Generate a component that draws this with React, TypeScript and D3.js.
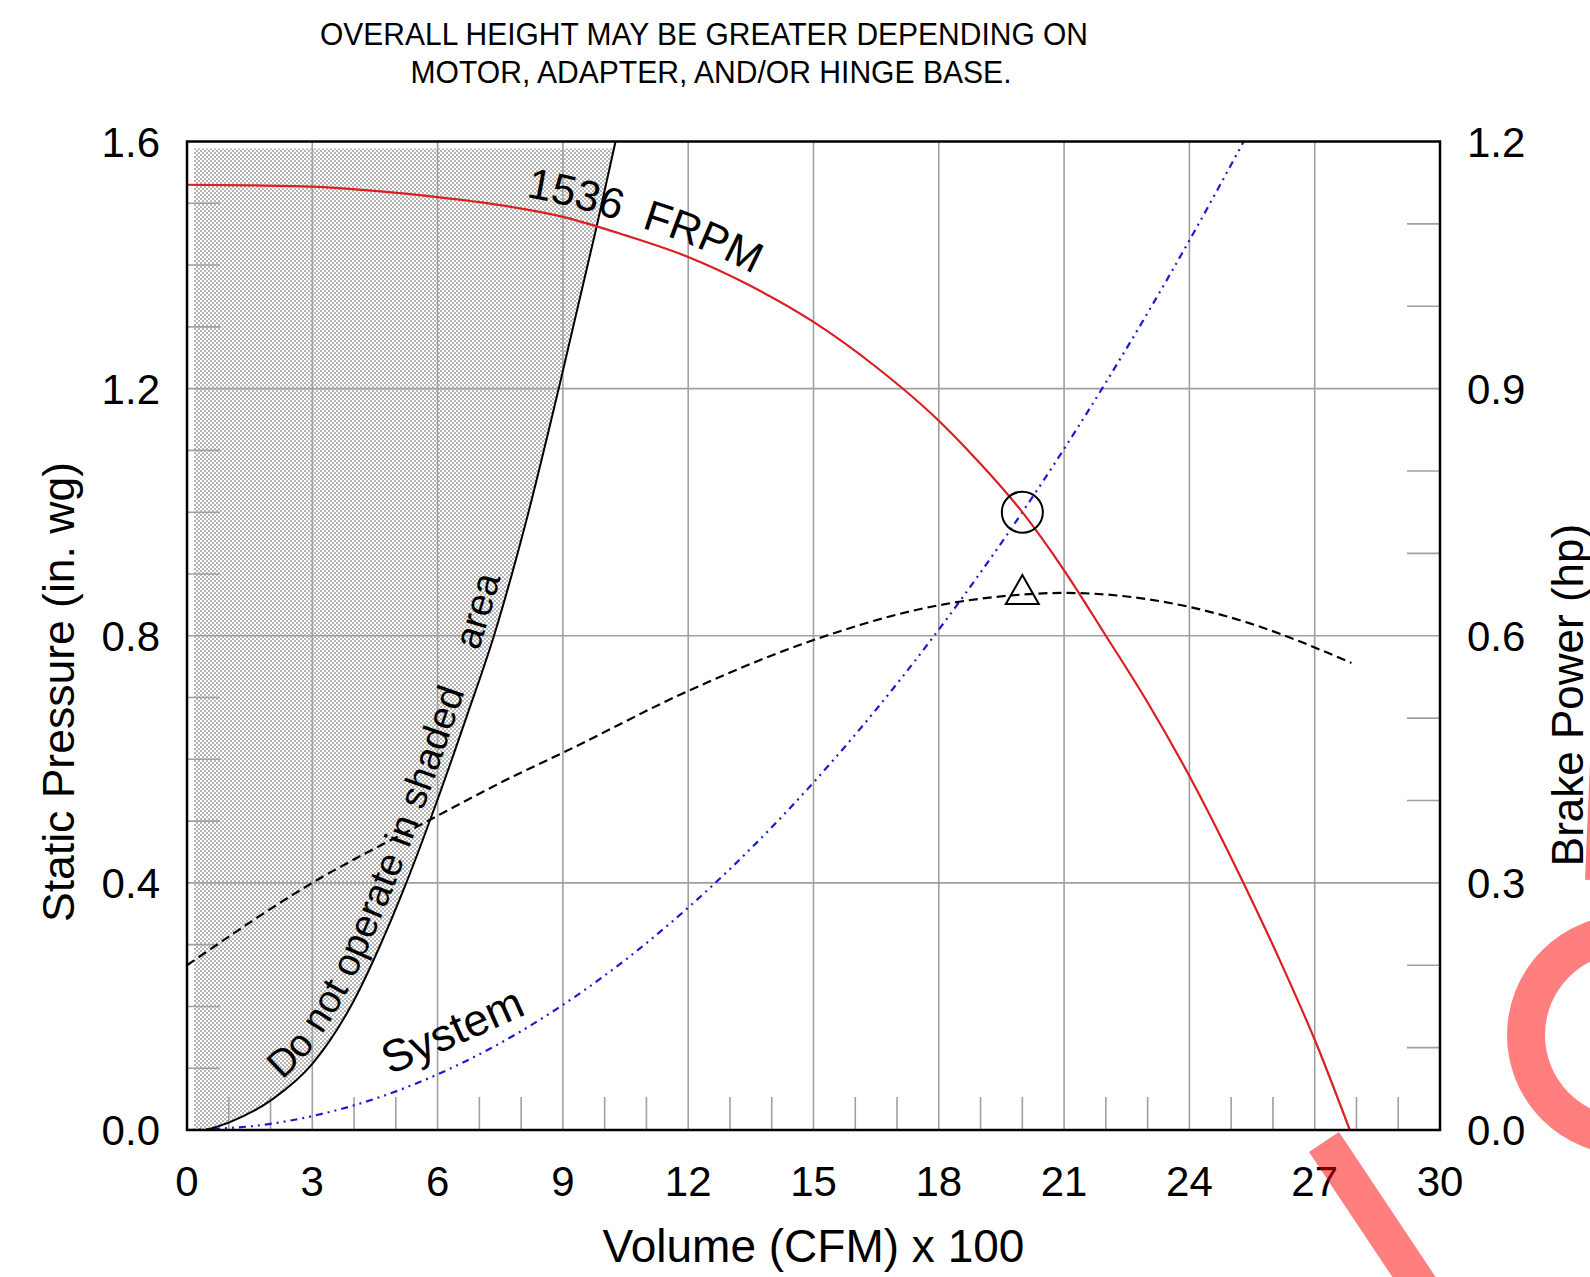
import React from 'react';
import * as d3 from 'd3';

// ---- data ----
const xTickValues = [0, 3, 6, 9, 12, 15, 18, 21, 24, 27, 30];
const spTickValues = [0.0, 0.4, 0.8, 1.2, 1.6];
const hpTickValues = [0.0, 0.3, 0.6, 0.9, 1.2];

// Fan curve 1536 FRPM (Volume CFM x100 vs Static Pressure in. wg)
const fanCFM = [0, 1.5, 3, 4.5, 6, 7.5, 9, 10.5, 12, 13.5, 15, 16.5, 18, 18.7, 20, 21, 22, 23, 24, 25.3, 26.25, 27.05, 27.84];
const fanSP = [1.53, 1.529, 1.527, 1.52, 1.51, 1.497, 1.478, 1.448, 1.413, 1.366, 1.308, 1.235, 1.148, 1.1, 1.0, 0.906, 0.8, 0.692, 0.573, 0.399, 0.262, 0.138, 0.0];

// Brake power (hp)
const bhpCFM = [0, 3, 5.72, 7.88, 9, 12, 14.68, 18, 20, 21, 24, 25.45, 27.88];
const bhpHP = [0.2, 0.3, 0.374, 0.431, 0.458, 0.533, 0.589, 0.637, 0.65, 0.652, 0.635, 0.615, 0.567];

// System curve
const sysCFM = [0, 2, 4, 6, 8, 10, 12, 14, 16, 18, 20, 22, 24, 25.3];
const sysSP = [0, 0.01, 0.04, 0.09, 0.16, 0.25, 0.36, 0.49, 0.64, 0.81, 1.0, 1.21, 1.44, 1.6];

// Stall (do not operate) boundary
const stallCFM = [0.45, 1.0, 2.05, 3.0, 4.0, 4.6, 5.25, 6.0, 6.7, 7.35, 8.1, 8.9, 9.8, 10.26];
const stallSP = [0, 0.012, 0.05, 0.107, 0.21, 0.295, 0.4, 0.535, 0.67, 0.8, 0.98, 1.2, 1.46, 1.6];

// Operating point
const opCFM = 20;
const opSP = 1.0;
const opHP = 0.65;

const titleLines = ['OVERALL HEIGHT MAY BE GREATER DEPENDING ON', 'MOTOR, ADAPTER, AND/OR HINGE BASE.'];

const FONT = '"Liberation Sans", Arial, Helvetica, sans-serif';

const W = 1590, H = 1277;
const L = 187, R = 1440, T = 141.5, B = 1130;

type P = [number, number];

function offsetPts(pts: P[], n: number): P[] {
  return pts.map((p, i) => {
    const a = pts[Math.max(0, i - 1)];
    const b = pts[Math.min(pts.length - 1, i + 1)];
    const dx = b[0] - a[0], dy = b[1] - a[1];
    const len = Math.hypot(dx, dy) || 1;
    const tx = dx / len, ty = dy / len;
    return [p[0] + ty * n, p[1] - tx * n] as P;
  });
}

export default function App() {
  const x = d3.scaleLinear().domain([0, 30]).range([L, R]);
  const y = d3.scaleLinear().domain([0, 1.6]).range([B, T]);
  const yR = d3.scaleLinear().domain([0, 1.2]).range([B, T]);

  const line = d3.line<P>().curve(d3.curveMonotoneX);

  const fanPts: P[] = fanCFM.map((c, i) => [x(c), y(fanSP[i])]);
  const bhpPts: P[] = bhpCFM.map((c, i) => [x(c), yR(bhpHP[i])]);
  const sysPts: P[] = sysCFM.map((c, i) => [x(c), y(sysSP[i])]);
  const stallPts: P[] = stallCFM.map((c, i) => [x(c), y(stallSP[i])]);

  const stallPath = line(stallPts) as string;
  const hatchPath = stallPath + `L${x(0)},${y(1.6)}L${x(0)},${y(0)}Z`;

  const fanLabelPath = line(offsetPts(fanPts, 12)) as string;
  const stallLabelPath = d3.line<P>().curve(d3.curveCatmullRom)(offsetPts(stallPts, 10)) as string;

  const xMinor = d3.range(1, 30).filter((v) => v % 3 !== 0);
  const spMinor = d3.range(1, 16).filter((v) => v % 4 !== 0).map((v) => v / 10);
  const hpMinor = d3.range(1, 12).filter((v) => v % 3 !== 0).map((v) => v / 10);

  const gridColor = '#a0a0a0';

  const cx = x(opCFM), cyOp = y(opSP);
  const tx = x(opCFM), ty = yR(opHP);
  const triPts = [[tx, ty - 19.5], [tx + 16.5, ty + 9.5], [tx - 16.5, ty + 9.5]].map((p) => p.join(',')).join(' ');

  return (
    <svg width={W} height={H} style={{ position: 'absolute', left: 0, top: 0, background: '#fff' }} fontFamily={FONT}>
      <defs>
        <pattern id="hatch" width="4" height="4" patternUnits="userSpaceOnUse">
          <rect width="4" height="4" fill="#b6b6b6" />
          <rect x="0" y="0" width="2" height="2" fill="#fff" />
          <rect x="2" y="2" width="2" height="2" fill="#fff" />
        </pattern>
        <clipPath id="hatchClip">
          <rect x={L + 7} y={T + 7} width={R - L} height={B - T - 7} />
        </clipPath>
        <path id="fanLabel" d={fanLabelPath} />
        <path id="stallLabel" d={stallLabelPath} />
      </defs>
      <rect x={0} y={0} width={W} height={H} fill="#fff" />

      {/* title */}
      {titleLines.map((t, i) => (
        <text key={i} x={i === 0 ? 704 : 711} y={45 + i * 37.5} textAnchor="middle" fontSize={32}
          fontFamily={'"Liberation Sans Narrow", "Arial Narrow", ' + FONT}
          textLength={i === 0 ? 768 : 601} lengthAdjust="spacingAndGlyphs">{t}</text>
      ))}

      {/* shaded area */}
      <path d={hatchPath} fill="url(#hatch)" clipPath="url(#hatchClip)" />

      {/* grid */}
      {xTickValues.slice(1, -1).map((v) => (
        <line key={'gx' + v} x1={x(v)} x2={x(v)} y1={T} y2={B} stroke={gridColor} strokeWidth={1.6} />
      ))}
      {spTickValues.slice(1, -1).map((v) => (
        <line key={'gy' + v} x1={L} x2={R} y1={y(v)} y2={y(v)} stroke={gridColor} strokeWidth={1.6} />
      ))}
      {xMinor.map((v) => (
        <line key={'mx' + v} x1={x(v)} x2={x(v)} y1={B} y2={B - 33} stroke={gridColor} strokeWidth={1.6} />
      ))}
      {spMinor.map((v) => (
        <line key={'ml' + v} x1={L} x2={L + 33} y1={y(v)} y2={y(v)} stroke={gridColor} strokeWidth={1.6} />
      ))}
      {hpMinor.map((v) => (
        <line key={'mr' + v} x1={R - 33} x2={R} y1={yR(v)} y2={yR(v)} stroke={gridColor} strokeWidth={1.6} />
      ))}

      {/* curves */}
      <path d={line(sysPts) as string} fill="none" stroke="#1c1ccc" strokeWidth={2.2} strokeDasharray="7 5 2 5 2 5" />
      <path d={line(bhpPts) as string} fill="none" stroke="#000" strokeWidth={2.2} strokeDasharray="9 5" />
      <path d={stallPath} fill="none" stroke="#000" strokeWidth={2} />
      <path d={line(fanPts) as string} fill="none" stroke="#dc1e1e" strokeWidth={2.2} />

      {/* operating point */}
      <circle cx={cx} cy={cyOp} r={20.5} fill="none" stroke="#000" strokeWidth={2} />
      <polygon points={triPts} fill="none" stroke="#000" strokeWidth={2} />

      {/* frame */}
      <rect x={L} y={T} width={R - L} height={B - T} fill="none" stroke="#000" strokeWidth={2.5} />

      {/* curve labels */}
      <text fontSize={43} style={{ whiteSpace: 'pre' }} xmlSpace="preserve">
        <textPath href="#fanLabel" startOffset={340}>{'1536  FRPM'}</textPath>
      </text>
      <text fontSize={38.5} style={{ whiteSpace: 'pre' }} xmlSpace="preserve">
        <textPath href="#stallLabel" startOffset={90}>{'Do not operate in shaded    area'}</textPath>
      </text>
      <text x={390} y={1075} fontSize={45} transform="rotate(-24 390 1075)">System</text>

      {/* tick labels */}
      {xTickValues.map((v) => (
        <text key={'tx' + v} x={x(v)} y={B + 66} textAnchor="middle" fontSize={42}>{v}</text>
      ))}
      {spTickValues.map((v) => (
        <text key={'ty' + v} x={L - 27} y={y(v) + 15} textAnchor="end" fontSize={42}>{v.toFixed(1)}</text>
      ))}
      {hpTickValues.map((v) => (
        <text key={'tr' + v} x={R + 27} y={yR(v) + 15} textAnchor="start" fontSize={42}>{v.toFixed(1)}</text>
      ))}

      {/* axis titles */}
      <text x={x(15)} y={1262} textAnchor="middle" fontSize={46}>Volume (CFM) x 100</text>
      <text x={74} y={692} textAnchor="middle" fontSize={44.5} transform="rotate(-90 74 692)">Static Pressure (in. wg)</text>
      <text x={1583} y={695} textAnchor="middle" fontSize={44} transform="rotate(-90 1583 695)">Brake Power (hp)</text>

      {/* watermark */}
      <g opacity={0.5} fill="none" stroke="#ff0000">
        <circle cx={1627} cy={1035} r={101} strokeWidth={38} />
        <line x1={1324} y1={1142} x2={1436} y2={1310} strokeWidth={36} />
        <line x1={1598} y1={738} x2={1592} y2={880} strokeWidth={14} />
      </g>
    </svg>
  );
}
